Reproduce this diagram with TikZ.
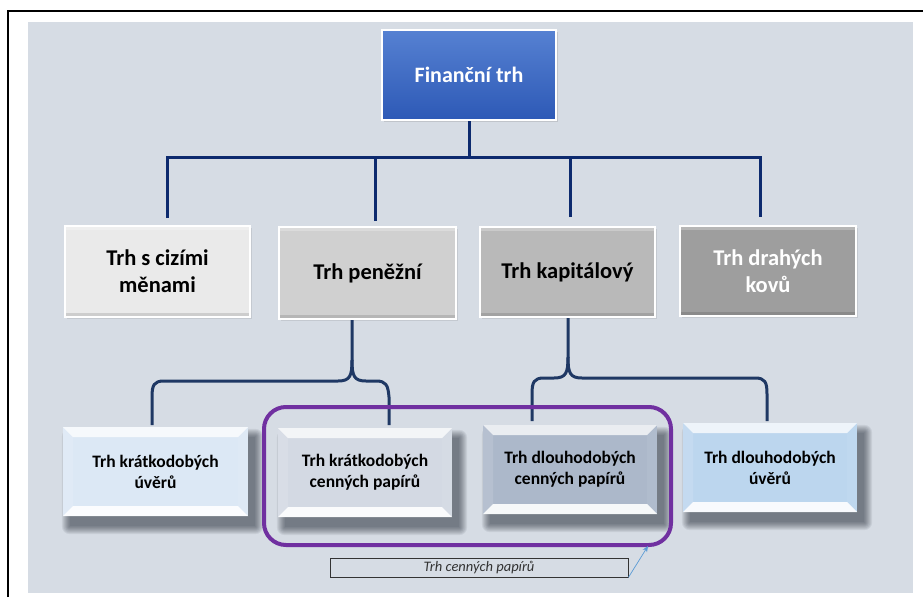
\documentclass[tikz,border=0pt]{standalone}
\usepackage{fontspec}
\setmainfont{Carlito}
\usetikzlibrary{shadows,arrows.meta,calc}
\pgfdeclarelayer{shadowlayer}
\pgfsetlayers{shadowlayer,main}
\definecolor{bg}{HTML}{D6DCE4}
\definecolor{treec}{HTML}{0D2A6E}
\definecolor{bracec}{HTML}{1F3864}
\definecolor{grpc}{HTML}{7030A0}
\definecolor{arrc}{HTML}{5B9BD5}
\definecolor{topA}{HTML}{5681D2}
\definecolor{topB}{HTML}{2D59B6}
\definecolor{gA}{HTML}{EAEAEA}
\definecolor{gB}{HTML}{D0D0D0}
\definecolor{gC}{HTML}{B9B9B9}
\definecolor{gD}{HTML}{9E9E9E}
\definecolor{bA}{HTML}{DCE8F5}
\definecolor{bB}{HTML}{D3D9E3}
\definecolor{bC}{HTML}{ACB8CA}
\definecolor{bD}{HTML}{BCD6EE}
\newcommand\myshadow[1]{%
  \begin{pgfonlayer}{shadowlayer}
  \foreach \r in {0,1,...,8}{
    \fill[black!70!bracec,opacity=.065,rounded corners=\r pt]
      ($(#1.north west)+(7-\r,10-\r)$) rectangle ($(#1.south east)+(7+\r,10+\r)$);
  }
  \end{pgfonlayer}}
\tikzset{
  tree/.style={draw=treec,line width=3pt},
  brace/.style={draw=bracec,line width=3pt,line join=round},
  topbox/.style={draw=white,line width=2.5pt,top color=topA,bottom color=topB,
    text=white,font=\fontsize{22}{27}\selectfont\bfseries,align=center,
    drop shadow={shadow xshift=2pt,shadow yshift=-2pt,opacity=.25}},
  midbox/.style={draw=white,line width=2.5pt,align=center,inner sep=2pt,
    font=\fontsize{22.5}{27}\selectfont\bfseries,
    drop shadow={shadow xshift=2pt,shadow yshift=-2pt,opacity=.2},
    path picture={\fill[black,opacity=.12] ([yshift=4pt]path picture bounding box.south west) rectangle (path picture bounding box.south east);
      \fill[white,opacity=.25] (path picture bounding box.north west) rectangle ([yshift=-4pt]path picture bounding box.north east);}},
  lowbox/.style={align=center,inner sep=2pt,font=\fontsize{17.5}{21}\selectfont\bfseries,
    path picture={
      \path (path picture bounding box.north west) coordinate (bnw)
            (path picture bounding box.south east) coordinate (bse);
      \fill[white,opacity=.12] (bnw) -- ([shift={(10pt,-10pt)}]bnw) -- ([shift={(10pt,10pt)}]bse -| bnw) -- (bse -| bnw) -- cycle;
      \fill[white,opacity=.06] (bse) -- ([shift={(-10pt,10pt)}]bse) -- ([shift={(-10pt,-10pt)}]bnw -| bse) -- (bnw -| bse) -- cycle;
      \fill[white,opacity=.75] (bnw) -- (bnw -| bse) -- ([shift={(-10pt,-10pt)}]bnw -| bse) -- ([shift={(10pt,-10pt)}]bnw) -- cycle;
      \fill[white,opacity=.9] (bse) -- (bse -| bnw) -- ([shift={(10pt,10pt)}]bse -| bnw) -- ([shift={(-10pt,10pt)}]bse) -- cycle;
    }},
  grpbox/.style={draw=grpc,line width=4pt,rounded corners=22pt},
  labbox/.style={draw=black!80,line width=0.8pt,font=\fontsize{14.5}{16}\selectfont\itshape,text=black!80,inner sep=0pt},
  arrline/.style={draw=arrc,line width=0.7pt,-{Stealth[length=6pt,width=5pt]}}
}
\begin{document}
\begin{tikzpicture}[x=1pt,y=-1pt]
\begin{pgfonlayer}{shadowlayer}
\useasboundingbox (0,0) rectangle (923,597);
\fill[white] (0,0) rectangle (923,597);
\fill[bg] (28,22) rectangle (913,593);
\draw[line width=1.5pt] (8,597) -- (8,11) -- (923,11);
\end{pgfonlayer}

% nodes
\node[topbox,minimum width=174pt,minimum height=90pt] (fin) at (469,75) {Finanční trh};

\node[midbox,fill=gA,minimum width=185pt,minimum height=91pt] (cizi) at (157.5,271.5) {Trh s cizími\\měnami};
\node[midbox,fill=gB,minimum width=177pt,minimum height=92pt] (pen) at (367.5,273) {Trh peněžní};
\node[midbox,fill=gC,minimum width=175pt,minimum height=90pt] (kap) at (567.5,272) {Trh kapitálový};
\node[midbox,fill=gD,text=white,minimum width=176pt,minimum height=90pt] (kov) at (768,271) {Trh drahých\\kovů};

% tree connectors
\coordinate (bus) at (469,157);
\coordinate (b1) at (167,157);
\coordinate (b4) at (760,157);
\coordinate (e1) at (167,218);
\coordinate (e2) at (375,221);
\coordinate (e3) at (570,217);
\coordinate (e4) at (760,217);
\draw[tree] (fin.south) -- (bus);
\draw[tree] (e1) -- (b1) -- (b4) -- (e4);
\draw[tree] (e2) -- (e2 |- bus);
\draw[tree] (e3) -- (e3 |- bus);

% braces
\coordinate (pT) at (352,320);
\coordinate (L1) at (152,425);
\coordinate (L2) at (389,425);
\draw[brace] (pT) -- (352,360) .. controls (352,376) and (350,381) .. (338,381) -- (164,381)
   .. controls (154,381) and (152,385) .. (152,397) -- (L1);
\draw[brace] (352,360) .. controls (352,376) and (354,381) .. (366,381) -- (376,381)
   .. controls (386,381) and (388,385) .. (389,397) -- (L2);
\coordinate (kT) at (568,318);
\coordinate (R1) at (532,421);
\coordinate (R2) at (767,421);
\draw[brace] (kT) -- (568,357) .. controls (568,373) and (566,378) .. (554,378) -- (544,378)
   .. controls (534,378) and (532,382) .. (532,394) -- (R1);
\draw[brace] (568,357) .. controls (568,373) and (570,378) .. (582,378) -- (755,378)
   .. controls (765,378) and (767,382) .. (767,394) -- (R2);

% group frame
\node[grpbox,minimum width=407pt,minimum height=138pt] (grp) at (467.5,476) {};

% lower boxes
\node[lowbox,fill=bA,minimum width=185pt,minimum height=89pt] (kuv) at (155.5,471.5) {Trh krátkodobých\\úvěrů};
\node[lowbox,fill=bB,minimum width=174pt,minimum height=89pt] (kcp) at (365,472.5) {Trh krátkodobých\\cenných papírů};
\node[lowbox,fill=bC,minimum width=174pt,minimum height=89pt] (dcp) at (570,469.5) {Trh dlouhodobých\\cenných papírů};
\node[lowbox,fill=bD,minimum width=174pt,minimum height=89pt] (duv) at (770,467.5) {Trh dlouhodobých\\úvěrů};
\myshadow{kuv}
\myshadow{kcp}
\myshadow{dcp}
\myshadow{duv}

% label
\node[labbox,minimum width=298pt,minimum height=19pt] (lab) at (479,567.5) {Trh cenných papírů};
\coordinate (arrend) at (648,546);
\draw[arrline] (lab.south east) -- (arrend);
\end{tikzpicture}
\end{document}
